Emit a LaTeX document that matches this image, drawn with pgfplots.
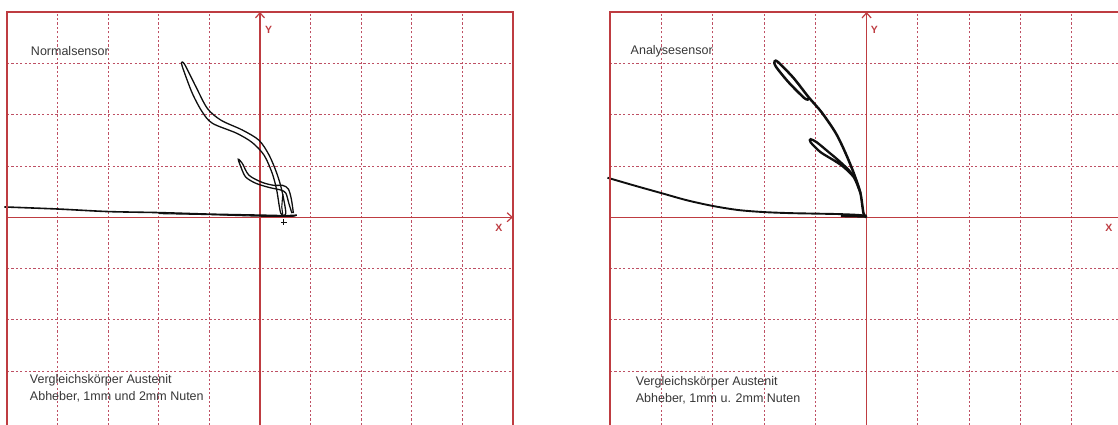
\documentclass[border=0pt]{standalone}
\usepackage{pgfplots}
\pgfplotsset{compat=1.18}
\usepackage{fontspec}
\setmainfont{Liberation Sans}
\usetikzlibrary{arrows.meta}
\definecolor{gridred}{RGB}{190,80,100}
\definecolor{axred}{RGB}{190,60,65}
\definecolor{txtgray}{RGB}{55,55,55}
\definecolor{ink}{RGB}{15,15,15}
\pgfplotsset{
 panel/.style={
  scale only axis, height=413pt, ymin=-4.05, ymax=4,
  xtick={-4,-3,-2,-1,1,2,3,4}, ytick={-3,-2,-1,1,2,3}, xticklabels={}, yticklabels={},
  major tick length=0pt, grid=major,
  major grid style={gridred, line width=0.8pt, dash pattern=on 2.2pt off 2.2pt},
  axis line style={draw=none},
  clip=false,
 },
}
\tikzset{
 lbl/.style={anchor=west, align=left, inner sep=0pt, text=txtgray, font=\fontsize{12.5}{17.5}\selectfont},
 axl/.style={font=\fontsize{10.5}{10.5}\selectfont\bfseries, text=axred, inner sep=0pt},
}
\begin{document}
\begin{tikzpicture}
% ---------------- left panel
\begin{axis}[panel, name=L, at={(7pt,0pt)}, anchor=south west, width=506pt, xmin=-5, xmax=5]
\draw[axred, line width=1.2pt, -{Straight Barb[length=5pt,width=9pt]}] (axis cs:0,-4.05) -- (axis cs:0,4);
\draw[axred, line width=1.2pt, -{Straight Barb[length=5pt,width=9pt]}] (axis cs:-5,0) -- (axis cs:5,0);
% horizontal trace
\addplot[ink, line width=1.6pt, smooth] coordinates {(-5.05,0.2) (-4,0.16) (-3,0.11) (-2,0.09) (-1,0.06) (0,0.04) (0.5,0.03) (0.73,0.04)};
\addplot[ink, line width=1.1pt, smooth] coordinates {(-2,0.07) (-1,0.05) (0,0.02) (0.7,0.02)};
% big loop
\addplot[ink, line width=1.3pt, smooth, tension=0.5] coordinates {
 (-1.55,3.02) (-1.53,2.92) (-1.34,2.42) (-1.14,2.05) (-0.94,1.83) (-0.47,1.64) (-0.16,1.46)
 (0.08,1.21) (0.24,0.86) (0.33,0.53) (0.41,0.08)
 (0.51,0.08) (0.43,0.53) (0.33,0.86) (0.18,1.21) (-0.02,1.50) (-0.35,1.70) (-0.77,1.89)
 (-1.04,2.12) (-1.26,2.53) (-1.49,2.98) (-1.55,3.02)};
% small loop with hook
\addplot[ink, line width=1.3pt, smooth, tension=0.5] coordinates {
 (0.63,0.08) (0.57,0.27) (0.51,0.47) (0.41,0.53) (0.18,0.58) (-0.08,0.66) (-0.28,0.78) (-0.37,0.96) (-0.43,1.13)
 (-0.35,1.05) (-0.22,0.82) (0.04,0.68) (0.28,0.62) (0.45,0.62) (0.56,0.55) (0.62,0.35) (0.66,0.08)};
\addplot[ink, line width=1.1pt] coordinates {(0.45,0.45) (0.43,0.2) (0.45,0.05)};
% cross mark
\addplot[ink, only marks, mark=+, mark size=3pt, line width=1.3pt] coordinates {(0.47,-0.1)};
\node[lbl] at (axis cs:-4.53,3.24) {Normalsensor};
\node[lbl] at (axis cs:-4.55,-3.33) {Vergleichskörper Austenit\\Abheber, 1mm und 2mm Nuten};
\node[axl] at (axis cs:0.17,3.65) {Y};
\node[axl] at (axis cs:4.72,-0.2) {X};
\end{axis}
\draw[axred, line width=1.2pt] (L.south west) -- (L.north west) -- (L.north east) -- (L.south east);
% ---------------- right panel
\begin{axis}[panel, name=R, at={(610pt,0pt)}, anchor=south west, width=508pt, xmin=-5, xmax=4.9]
\draw[axred, line width=1.2pt, -{Straight Barb[length=5pt,width=9pt]}] (axis cs:0,-4.05) -- (axis cs:0,4);
\draw[axred, line width=1.2pt] (axis cs:-5,0) -- (axis cs:4.9,0);
\addplot[ink, line width=1.9pt, smooth] coordinates {
 (-5.05,0.77) (-4.5,0.61) (-4,0.47) (-3.5,0.33) (-3,0.22) (-2.5,0.14) (-2,0.1) (-1.5,0.08) (-1,0.07) (-0.5,0.06) (-0.1,0.04) (0,0)};
% big arm
\addplot[ink, line width=2.5pt, smooth, tension=0.5] coordinates {
 (0,0) (-0.06,0.08) (-0.12,0.47) (-0.25,0.86) (-0.41,1.25) (-0.60,1.64) (-0.88,2.05) (-1.13,2.34)
 (-1.42,2.71) (-1.72,3.02) (-1.79,3.04) (-1.77,2.94) (-1.52,2.63) (-1.21,2.32) (-1.13,2.30)};
% small arm
\addplot[ink, line width=2.3pt, smooth, tension=0.5] coordinates {
 (-0.12,0.47) (-0.2,0.7) (-0.33,0.9) (-0.55,1.11) (-0.74,1.27) (-0.97,1.46) (-1.09,1.52)
 (-1.09,1.46) (-0.90,1.27) (-0.64,1.11) (-0.45,0.98) (-0.25,0.78) (-0.15,0.55)};
\addplot[ink, line width=3pt] coordinates {(-0.5,0.03) (0,0.02)};
\node[lbl] at (axis cs:-4.6,3.24) {Analysesensor};
\node[lbl] at (axis cs:-4.5,-3.37) {Vergleichskörper Austenit\\Abheber, 1mm u. 2mm Nuten};
\node[axl] at (axis cs:0.15,3.65) {Y};
\node[axl] at (axis cs:4.72,-0.2) {X};
\end{axis}
\draw[axred, line width=1.2pt] (R.south west) -- (R.north west) -- (R.north east);
\pgfresetboundingbox
\useasboundingbox (0,0) rectangle (1118pt,425pt);
\end{tikzpicture}
\end{document}
